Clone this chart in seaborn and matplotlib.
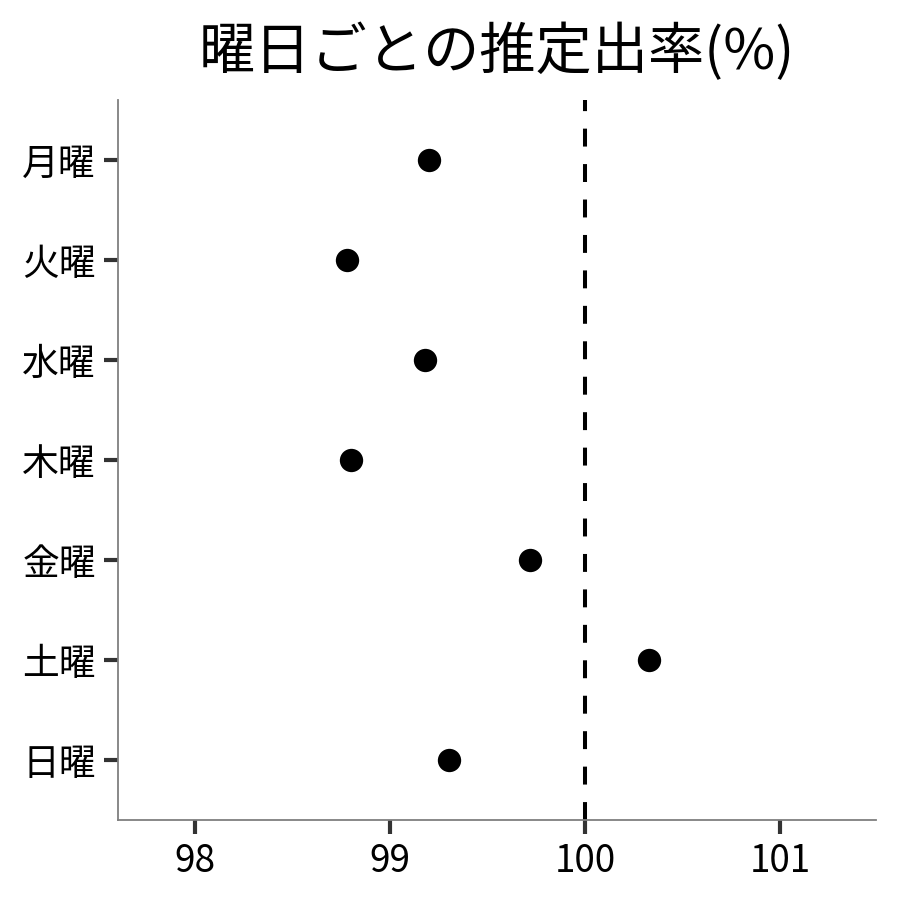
import pandas as pd
import matplotlib
matplotlib.use("Agg")
import matplotlib.pyplot as plt
import seaborn as sns

# 曜日ごとの推定出率 (%)
days = ["月曜", "火曜", "水曜", "木曜", "金曜", "土曜", "日曜"]
rates = [99.20, 98.78, 99.18, 98.80, 99.72, 100.33, 99.30]
ref_value = 100
x_ticks = [98, 99, 100, 101]

df = pd.DataFrame({"day": days, "rate": rates})

sns.set_theme(style="white")
plt.rcParams["font.family"] = ["Noto Sans CJK JP", "DejaVu Sans"]

fig, ax = plt.subplots(figsize=(9, 9), dpi=100)
fig.subplots_adjust(left=0.131, right=0.973, top=0.889, bottom=0.089)

sns.stripplot(data=df, x="rate", y="day", order=days, jitter=False,
              color="black", size=16.8, linewidth=0, ax=ax, zorder=3)

# reference line at 100%
ax.axvline(ref_value, color="black", linestyle=(0, (4.45, 4.35)), linewidth=2.9, zorder=2)

ax.set_xlim(97.605, 101.49)
ax.set_ylim(len(days) - 0.4, -0.6)
ax.set_xticks(x_ticks)
ax.set_xlabel("")
ax.set_ylabel("")
ax.set_title("曜日ごとの推定出率(%)", fontsize=40.5, pad=22, color="black")

for side in ["top", "right"]:
    ax.spines[side].set_visible(False)
for side in ["left", "bottom"]:
    ax.spines[side].set_color("#7f7f7f")
    ax.spines[side].set_linewidth(1.3)

ax.tick_params(axis="both", which="major", length=10, width=3, color="#333333",
               labelsize=26.5, labelcolor="black", pad=6, bottom=True, left=True)

fig.savefig("out.png", dpi=100)
